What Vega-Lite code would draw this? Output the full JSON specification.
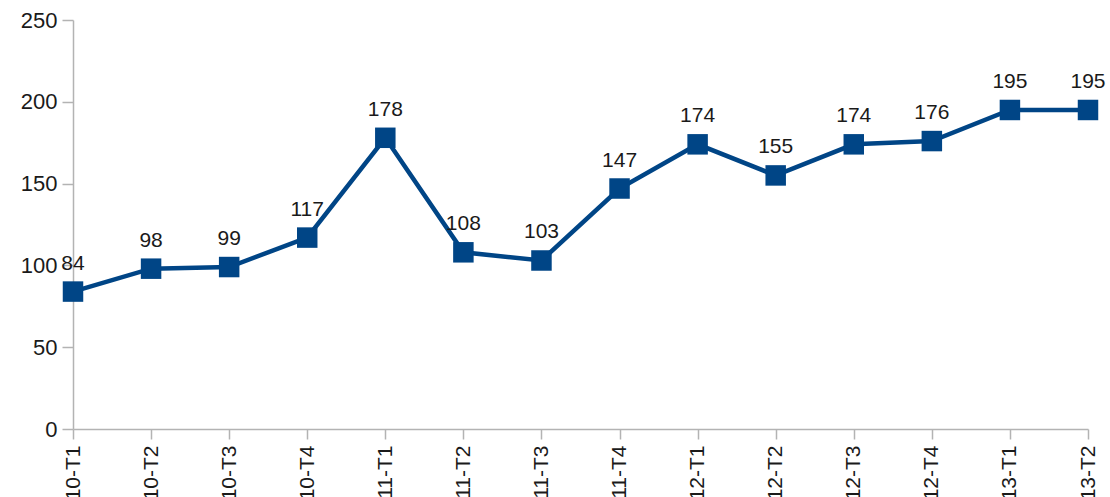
{
  "$schema": "https://vega.github.io/schema/vega-lite/v6.json",
  "autosize": "none",
  "padding": {"left": 73, "top": 20, "right": 22, "bottom": 68},
  "width": 1015,
  "height": 409,
  "background": "white",
  "config": {"view": {"stroke": null}, "font": "Liberation Sans"},
  "data": {"values": [
    {"t": "10-T1", "v": 84},
    {"t": "10-T2", "v": 98},
    {"t": "10-T3", "v": 99},
    {"t": "10-T4", "v": 117},
    {"t": "11-T1", "v": 178},
    {"t": "11-T2", "v": 108},
    {"t": "11-T3", "v": 103},
    {"t": "11-T4", "v": 147},
    {"t": "12-T1", "v": 174},
    {"t": "12-T2", "v": 155},
    {"t": "12-T3", "v": 174},
    {"t": "12-T4", "v": 176},
    {"t": "13-T1", "v": 195},
    {"t": "13-T2", "v": 195}
  ]},
  "encoding": {
    "x": {"field": "t", "type": "ordinal", "sort": null,
      "scale": {"type": "point", "padding": 0},
      "axis": {"title": null, "labelAngle": -90, "labelAlign": "right", "labelBaseline": "middle",
        "labelFontSize": 21, "labelColor": "#1a1a1a", "domainColor": "#b3b3b3", "tickColor": "#b3b3b3",
        "tickSize": 10, "labelPadding": 6, "domainWidth": 1.5, "tickWidth": 1.5}},
    "y": {"field": "v", "type": "quantitative",
      "scale": {"domain": [0, 250], "nice": false},
      "axis": {"title": null, "values": [0, 50, 100, 150, 200, 250], "grid": false,
        "labelFontSize": 22, "labelColor": "#1a1a1a", "domainColor": "#b3b3b3", "tickColor": "#b3b3b3",
        "tickSize": 11, "labelPadding": 5, "domainWidth": 1.5, "tickWidth": 1.5}}
  },
  "layer": [
    {"mark": {"type": "line", "color": "#004586", "strokeWidth": 4.5}},
    {"mark": {"type": "point", "shape": "square", "filled": true, "opacity": 1, "color": "#004586", "size": 420}},
    {"mark": {"type": "text", "dy": -28, "fontSize": 21, "color": "#1a1a1a"}, "encoding": {"text": {"field": "v", "type": "quantitative"}}}
  ]
}
